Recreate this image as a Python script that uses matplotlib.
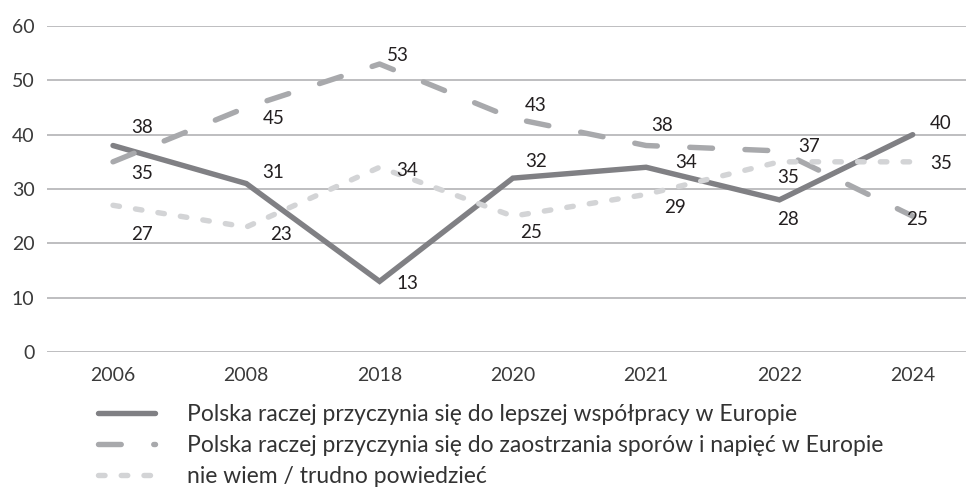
import matplotlib
matplotlib.use("Agg")
import matplotlib.pyplot as plt

plt.rcParams['font.family'] = ['Lato', 'DejaVu Sans']

years = ['2006', '2008', '2018', '2020', '2021', '2022', '2024']
lepsza = [38, 31, 13, 32, 34, 28, 40]
spory = [35, 45, 53, 43, 38, 37, 25]
nie_wiem = [27, 23, 34, 25, 29, 35, 35]

labels = ['Polska raczej przyczynia się do lepszej współpracy w Europie',
          'Polska raczej przyczynia się do zaostrzania sporów i napięć w Europie',
          'nie wiem / trudno powiedzieć']

# label offsets in pixels (dx, dy) for each point
off_lepsza = [(29, 18), (27, 11), (28, -2), (23, 17), (40, 5), (9, -20), (28, 11)]
off_spory = [(29, -12), (27, -11), (18, 9), (23, 13), (16, 20), (30, 4), (4, -3)]
off_nie = [(29, -29), (35, -7), (28, -3), (18, -16), (29, -13), (9, -16), (28, -2)]

c1, c2, c3 = '#808084', '#a8a9ac', '#d3d4d6'
txt = '#231f20'

fig = plt.figure(figsize=(9.66, 4.9), dpi=100)
ax = fig.add_axes([0.0487, 0.2816, 0.9513, 0.6654])

x = list(range(len(years)))
lw = 3.9
ax.plot(x, lepsza, color=c1, lw=lw, solid_capstyle='round', solid_joinstyle='miter', label=labels[0])
ax.plot(x, spory, color=c2, lw=lw, linestyle=(0, (4.2, 6.0)), dash_capstyle='round', label=labels[1])
ax.plot(x, nie_wiem, color=c3, lw=lw, linestyle=(0, (1.2, 3.0)), dash_capstyle='round', label=labels[2])

for vals, offs in [(lepsza, off_lepsza), (spory, off_spory), (nie_wiem, off_nie)]:
    for xi, v, (dx, dy) in zip(x, vals, offs):
        ax.annotate(str(v), (xi, v), xytext=(dx * 0.72, dy * 0.72), textcoords='offset points',
                    ha='center', va='center', fontsize=13.5, color=txt)

ax.set_xlim(-0.495, 6.4)
ax.set_ylim(0, 60)
ax.set_yticks(range(0, 61, 10))
ax.set_xticks(x)
ax.set_xticklabels(years)
ax.grid(axis='y', color='#b3b3b5', lw=1.2)
ax.set_axisbelow(True)
for s in ax.spines.values():
    s.set_visible(False)
ax.tick_params(length=0, labelsize=14, labelcolor='#3a3a3a')
ax.tick_params(axis='y', pad=9)
ax.tick_params(axis='x', pad=11)

leg = ax.legend(loc='upper left', bbox_to_anchor=(0.045, -0.13), frameon=False, fontsize=16.5,
                handlelength=2.5, handletextpad=1.4, labelspacing=0.45, borderaxespad=0)
for t in leg.get_texts():
    t.set_color('#333333')

fig.savefig('out.png', dpi=100)
